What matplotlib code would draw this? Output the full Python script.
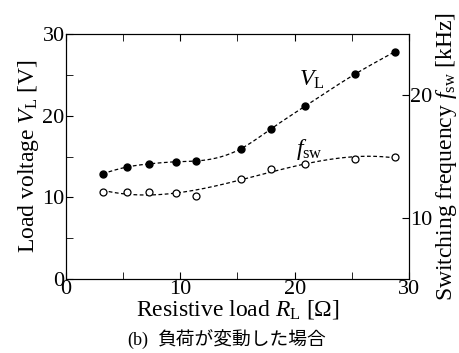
import numpy as np
import matplotlib
matplotlib.use("Agg")
import matplotlib.pyplot as plt

plt.rcParams['font.family'] = ['Liberation Serif']
plt.rcParams['mathtext.fontset'] = 'custom'
plt.rcParams['mathtext.rm'] = 'Liberation Serif'
plt.rcParams['mathtext.it'] = 'Liberation Serif:italic'

R_load = [3.2, 5.3, 7.3, 9.6, 11.4, 15.3, 17.9, 20.9, 25.3, 28.8]
V_load = [12.9, 13.7, 14.1, 14.35, 14.45, 15.95, 18.35, 21.15, 25.1, 27.85]
R_f = [3.2, 5.3, 7.3, 9.6, 11.4, 15.3, 17.9, 20.9, 25.3, 28.8]
f_sw = [12.1, 12.1, 12.1, 12.0, 11.8, 13.15, 14.0, 14.4, 14.8, 14.95]


def natural_spline(x, y, xs):
    x = np.asarray(x, float); y = np.asarray(y, float)
    n = len(x)
    h = np.diff(x)
    A = np.zeros((n, n)); b = np.zeros(n)
    A[0, 0] = 1; A[-1, -1] = 1
    for i in range(1, n - 1):
        A[i, i - 1] = h[i - 1]
        A[i, i] = 2 * (h[i - 1] + h[i])
        A[i, i + 1] = h[i]
        b[i] = 3 * ((y[i + 1] - y[i]) / h[i] - (y[i] - y[i - 1]) / h[i - 1])
    c = np.linalg.solve(A, b)
    out = np.empty_like(xs)
    for k, xv in enumerate(xs):
        i = min(max(np.searchsorted(x, xv) - 1, 0), n - 2)
        dx = xv - x[i]
        bi = (y[i + 1] - y[i]) / h[i] - h[i] * (2 * c[i] + c[i + 1]) / 3
        di = (c[i + 1] - c[i]) / (3 * h[i])
        out[k] = y[i] + bi * dx + c[i] * dx ** 2 + di * dx ** 3
    return out


fig = plt.figure(figsize=(4.6, 3.53), dpi=100)
ax = fig.add_axes([0.1435, 0.2096, 0.7455, 0.6941])

xs = np.linspace(R_load[0], R_load[-1], 300)
ax.plot(xs, natural_spline(R_load, V_load, xs), '--', color='black', lw=0.9, dashes=(3, 2))
ax.plot(R_load, V_load, 'o', color='black', ms=5)

ax.set_xlim(0, 30)
ax.set_ylim(0, 30)
ax.set_xticks([0, 10, 20, 30])
ax.set_xticks([5, 15, 25], minor=True)
ax.set_yticks([0, 10, 20, 30])
ax.set_yticks([5, 15, 25], minor=True)
ax.tick_params(which='both', direction='in', top=True, right=False, labelsize=16, pad=1)
ax.tick_params(which='major', length=5)
ax.tick_params(which='minor', length=5)
ax.set_xlabel(r'Resistive load $R_\mathrm{L}$ [$\Omega$]', fontsize=17, labelpad=-1)
ax.set_ylabel(r'Load voltage $V_\mathrm{L}$ [V]', fontsize=17, labelpad=1)

ax2 = ax.twinx()
p = np.polyfit(R_f, f_sw, 4)
ax2.plot(xs, np.polyval(p, xs), '--', color='black', lw=0.9, dashes=(3, 2))
ax2.plot(R_f, f_sw, 'o', mfc='white', mec='black', mew=0.9, ms=5)
ax2.set_ylim(5, 25)
ax2.set_yticks([10, 20])
ax2.tick_params(direction='in', length=5, labelsize=16, pad=1)
ax2.set_ylabel(r'Switching frequency $f_\mathrm{sw}$ [kHz]', fontsize=17, labelpad=1)

ax.text(21.5, 24.4, r'$V_\mathrm{L}$', fontsize=17, ha='center', va='center')
ax.text(21.3, 15.9, r'$f_\mathrm{sw}$', fontsize=17, ha='center', va='center')

fig.text(127 / 460, 0.036, '(b)', fontsize=13, ha='left', va='center')
fig.text(157 / 460, 0.036, '負荷が変動した場合', fontsize=13.5, ha='left', va='center',
         family=['Noto Sans CJK JP', 'DejaVu Sans'])

fig.savefig('out.png', dpi=100)
